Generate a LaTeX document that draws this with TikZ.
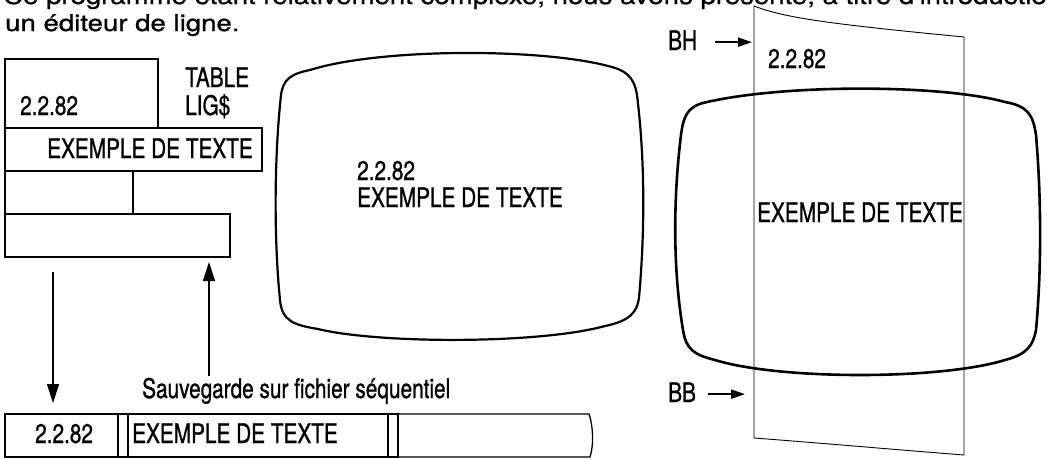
\documentclass[tikz,border=0pt]{standalone}
\usepackage{fontspec}
\setmainfont{TeX Gyre Heros}
\newfontfamily\labelfont{TeX Gyre Heros}[FakeStretch=0.77,FakeBold=0.9]
\newfontfamily\bodyfont{TeX Gyre Heros}[FakeStretch=1.2,FakeBold=0.9]
\usetikzlibrary{arrows.meta}

\begin{document}
\begin{tikzpicture}[x=1pt,y=-1pt,
    cell/.style={draw,line width=1.3pt,inner sep=0pt,outer sep=0pt,anchor=north west},
    lbl/.style={font=\labelfont\fontsize{27}{30}\selectfont,inner sep=0pt,anchor=base west},
    body/.style={font=\bodyfont\fontsize{23}{24}\selectfont,inner sep=0pt,anchor=base west},
    flow/.style={-{Triangle[length=19pt,width=12pt]},line width=1.2pt},
    pointer/.style={-{Triangle[length=14pt,width=9pt]},line width=2.2pt},
    screen/.style={line width=2.2pt,line join=round},
    sheet/.style={line width=0.9pt}]

    \clip (0,0) rectangle (1047,458);

    % 本文
    \node[body] (intro1) at (3,4) {Ce programme étant relativement complexe, nous avons présenté, à titre d'introduction};
    \node[body] (intro2) at (5,31) {un éditeur de ligne.};

    % テーブル LIG$ の描画
    \node[cell,minimum width=153pt,minimum height=69pt] (lig1) at (5,59) {};
    \node[cell,minimum width=257pt,minimum height=43pt] (lig2) at (lig1.south west) {};
    \node[cell,minimum width=128pt,minimum height=43pt] (lig3) at (lig2.south west) {};
    \node[cell,minimum width=225pt,minimum height=43pt] (lig4) at (lig3.south west) {};

    \node[lbl] (d1) at (20,115) {2.2.82};
    \node[lbl] (tab) at (185,87) {TABLE};
    \node[lbl] (ligs) at (185,115) {LIG\$};
    \node[lbl] (t1) at (47,158) {EXEMPLE DE TEXTE};

    % 画面の描画
    \draw[screen] (310,70) .. controls (380,48) and (540,48) .. (608,66)
        .. controls (625,70) and (634,76) .. (637,95)
        .. controls (645,160) and (645,230) .. (639,298)
        .. controls (637,312) and (630,321) .. (605,326)
        .. controls (540,344) and (380,344) .. (318,329)
        .. controls (295,325) and (282,322) .. (280,300)
        .. controls (274,240) and (274,160) .. (281,95)
        .. controls (283,80) and (290,74) .. cycle;

    \node[lbl] (d2) at (357,180) {2.2.82};
    \node[lbl] (t2) at (357,207) {EXEMPLE DE TEXTE};

    % 右の画面と用紙
    \draw[screen,line width=2.6pt] (703,103) .. controls (780,84) and (940,84) .. (1005,102)
        .. controls (1028,106) and (1033,115) .. (1036,135)
        .. controls (1041.5,200) and (1041.5,270) .. (1036,330)
        .. controls (1033,345) and (1028,354) .. (1005,360)
        .. controls (940,380) and (780,380) .. (715,360)
        .. controls (695,355) and (686,350) .. (683,330)
        .. controls (673,270) and (673,200) .. (681,135)
        .. controls (683,118) and (687,107) .. cycle;

    \coordinate (S1) at (754,6);
    \coordinate (S2) at (964,37);
    \coordinate (S3) at (964,455);
    \coordinate (S4) at (754,438);
    \draw[sheet] (S1) .. controls (785,18) and (830,24) .. (S2) -- (S3)
        .. controls (900,450) and (820,443) .. (S4) -- cycle;

    \node[lbl] (d3) at (768,68) {2.2.82};
    \node[lbl] (t3) at (757,222) {EXEMPLE DE TEXTE};

    \node[lbl] (bh) at (668,50) {BH};
    \node[lbl] (bb) at (668,402) {BB};
    \draw[pointer,shorten >=2pt] ([xshift=18pt,yshift=-2pt]bh.east) -- ([yshift=-2pt]bh.east -| S1);
    \draw[pointer,shorten >=9pt] ([xshift=12pt,yshift=-2pt]bb.east) -- ([yshift=-2pt]bb.east -| S4);

    % 順次ファイルのレコード
    \node[cell,minimum width=113pt,minimum height=43pt] (rec1) at (5,414) {};
    \node[cell,minimum width=10pt,minimum height=43pt] (rec2) at (rec1.north east) {};
    \node[cell,minimum width=260pt,minimum height=43pt] (rec3) at (rec2.north east) {};
    \node[cell,minimum width=10pt,minimum height=43pt] (rec4) at (rec3.north east) {};
    \coordinate (R1) at (589,414);
    \coordinate (R2) at (590,457);
    \draw[line width=1.3pt] (rec4.north east) -- (R1)
        .. controls (593,425) and (594,445) .. (R2) -- (rec4.south east);

    \node[lbl] (d4) at (35,443) {2.2.82};
    \node[lbl] (t4) at (132,443) {EXEMPLE DE TEXTE};

    % 矢印の描画
    \node[lbl] (save) at (142,398) {Sauvegarde sur fichier séquentiel};
    \coordinate (dn) at (53,272);
    \coordinate (up) at (209,0);
    \draw[flow,shorten >=11pt] (dn) -- (dn |- rec1.north);
    \draw[flow,shorten <=2pt,shorten >=5pt] (save.north -| up) -- (up |- lig4.south);

\end{tikzpicture}
\end{document}
